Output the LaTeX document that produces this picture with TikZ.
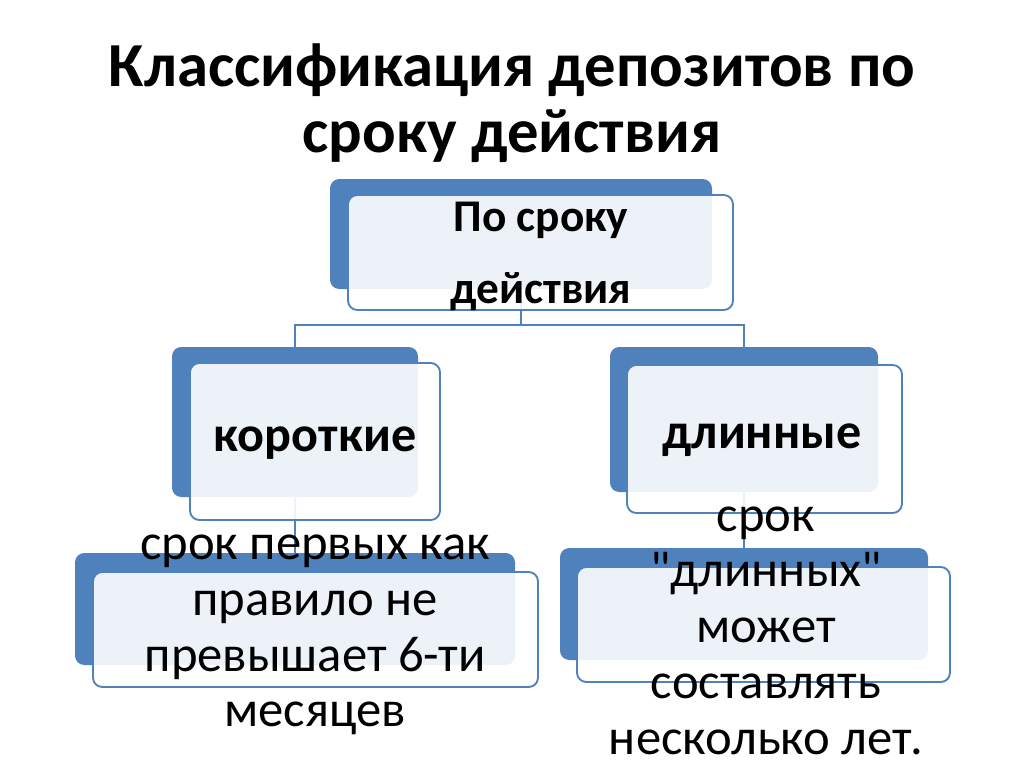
\documentclass[tikz,border=0pt]{standalone}
\usepackage{fontspec}
\setmainfont{Carlito}[Ligatures=TeXOff]
\usepackage{tikz}
\usepackage{xcolor}
\definecolor{offblue}{HTML}{4F81BD}

\begin{document}
\begin{tikzpicture}[x=0.75pt,y=-0.75pt,
  backbox/.style={fill=offblue,rounded corners=7pt,inner sep=0pt},
  frontbox/.style={draw=offblue,line width=1.4pt,fill=white,fill opacity=0.9,rounded corners=7pt,inner sep=0pt},
  link/.style={draw=offblue,line width=1.2pt},
  heading/.style={font=\fontsize{47}{49}\selectfont\bfseries,align=center},
  topterm/.style={font=\fontsize{34}{54}\selectfont\bfseries,align=center},
  bigterm/.style={font=\fontsize{37.6}{54}\selectfont\bfseries,align=center},
  note/.style={font=\fontsize{38}{41.8}\selectfont,align=center}]
\useasboundingbox(0,0)rectangle(1024,767);
\fill[white](0,0)rectangle(1024,767);
\node[heading](title)at(512,103){Классификация депозитов по\\сроку действия};
% blue backs first, the links sit between them and the light fronts
\node[backbox,minimum width=286.5pt,minimum height=82.5pt](termB)at(521,234){};
\node[backbox,minimum width=184.5pt,minimum height=112.5pt](shortB)at(295,422){};
\node[backbox,minimum width=201pt,minimum height=108.75pt](longB)at(744,419.5){};
\node[backbox,minimum width=330pt,minimum height=84pt](shortnoteB)at(295,609){};
\node[backbox,minimum width=276pt,minimum height=84pt](longnoteB)at(744,604){};
\draw[link](termB.south)--++(0,36)-|(shortB.north);
\draw[link](termB.south)--++(0,36)-|(longB.north);
\draw[link](shortB.south)--(shortnoteB.north);
\draw[link](longB.south)--(longnoteB.north);
\node[frontbox,minimum width=288.75pt,minimum height=86.25pt](termF)at(540.5,252.5){};
\node[frontbox,minimum width=187.5pt,minimum height=117.75pt](shortF)at(315,441.5){};
\node[frontbox,minimum width=206.25pt,minimum height=111pt](longF)at(764.5,439){};
\node[frontbox,minimum width=333.75pt,minimum height=86.25pt](shortnoteF)at(315.5,629.5){};
\node[frontbox,minimum width=279.75pt,minimum height=86.25pt](longnoteF)at(763.5,624.5){};
\node[topterm](termT)at(541,256){По сроку\\действия};
\node[bigterm](shortT)at(315,443){короткие};
\node[bigterm](longT)at(762,440){длинные};
\node[note](shortnoteT)at(315,635){срок первых как\\правило не\\превышает 6-ти\\месяцев};
\node[note](longnoteT)at(766,630.5){срок\\"длинных"\\может\\составлять\\несколько лет.};
\end{tikzpicture}
\end{document}
